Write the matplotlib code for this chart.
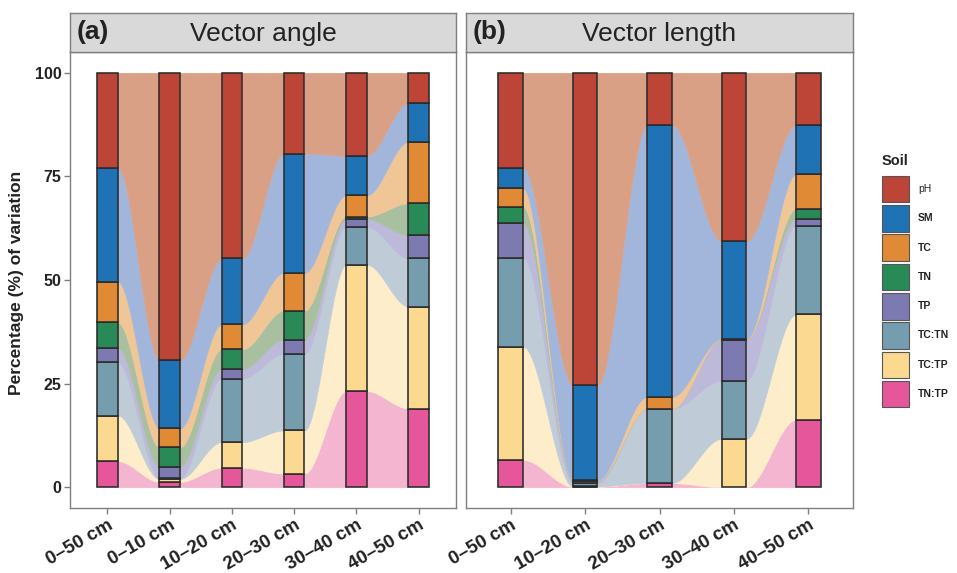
import numpy as np
import matplotlib
matplotlib.use("Agg")
import matplotlib.pyplot as plt
from matplotlib.patches import Rectangle

plt.rcParams['font.family'] = ['Liberation Sans', 'DejaVu Sans']

# ---------------- data ----------------
soil = ['pH', 'SM', 'TC', 'TN', 'TP', 'TC:TN', 'TC:TP', 'TN:TP']
soil_colors = ['#BC4538', '#1F72B4', '#E08A35', '#2A8A57', '#7D79B1',
               '#759DAE', '#FBD991', '#E5569B']
flow_colors = ['#DAA086', '#A2B6DB', '#F1C697', '#A9C0A0', '#BDB9DA',
               '#BFCCD8', '#FDEDCB', '#F3B5CF']

angle_depths = ['0–50 cm', '0–10 cm', '10–20 cm', '20–30 cm', '30–40 cm', '40–50 cm']
angle_pH   = [22.9, 69.4, 44.8, 19.5, 20.0, 7.3]
angle_SM   = [27.5, 16.4, 15.9, 28.8, 9.6, 9.4]
angle_TC   = [9.8, 4.55, 6.0, 9.1, 5.1, 14.8]
angle_TN   = [6.1, 4.75, 4.8, 7.0, 0.6, 7.7]
angle_TP   = [3.5, 2.7, 2.3, 3.4, 1.9, 5.6]
angle_TCTN = [12.9, 0.2, 15.3, 18.5, 9.1, 11.6]
angle_TCTP = [11.0, 0.7, 6.2, 10.4, 30.5, 24.6]
angle_TNTP = [6.3, 1.3, 4.7, 3.3, 23.2, 19.0]

length_depths = ['0–50 cm', '10–20 cm', '20–30 cm', '30–40 cm', '40–50 cm']
length_pH   = [22.9, 75.4, 12.6, 40.7, 12.6]
length_SM   = [5.0, 22.8, 65.6, 23.5, 11.9]
length_TC   = [4.4, 0.1, 2.9, 0.1, 8.3]
length_TN   = [4.0, 0.1, 0.0, 0.1, 2.5]
length_TP   = [8.3, 0.6, 0.0, 9.9, 1.6]
length_TCTN = [21.5, 0.8, 17.9, 14.0, 21.4]
length_TCTP = [27.3, 0.1, 0.0, 11.7, 25.4]
length_TNTP = [6.6, 0.1, 1.0, 0.0, 16.3]

panels = [
    ('(a)', 'Vector angle', angle_depths,
     [angle_pH, angle_SM, angle_TC, angle_TN, angle_TP, angle_TCTN, angle_TCTP, angle_TNTP]),
    ('(b)', 'Vector length', length_depths,
     [length_pH, length_SM, length_TC, length_TN, length_TP, length_TCTN, length_TCTP, length_TNTP]),
]

# ---------------- layout ----------------
W, H = 957, 573
fig = plt.figure(figsize=(W / 100, H / 100), dpi=100)

def rect(l, t, r, b):
    return [l / W, 1 - b / H, (r - l) / W, (b - t) / H]

panel_px = [(70, 456), (466, 853)]
ptop, pbot, stop = 52, 508, 13
frame_col = '#7F7F7F'
text_col = '#222222'
bar_w = 0.33

for pi, (tag, title, depths, series) in enumerate(panels):
    l, r = panel_px[pi]
    ax = fig.add_axes(rect(l, ptop, r, pbot))
    n = len(depths)
    x = np.arange(1, n + 1)
    vals = np.array(series)  # strata x bars, pH first (top)
    order = list(range(len(soil)))[::-1]  # TN:TP at bottom
    bottoms = np.zeros((len(soil), n))
    cum = np.zeros(n)
    for k in order:
        bottoms[k] = cum
        cum = cum + vals[k]
    tops = bottoms + vals

    # flows
    t = np.linspace(0, 1, 80)
    s = 3 * t ** 2 - 2 * t ** 3
    for k in order:
        lc = flow_colors[k]
        for i in range(n - 1):
            x0 = x[i] + bar_w / 2
            x1 = x[i + 1] - bar_w / 2
            xx = x0 + (x1 - x0) * t
            lo = bottoms[k, i] + (bottoms[k, i + 1] - bottoms[k, i]) * s
            hi = tops[k, i] + (tops[k, i + 1] - tops[k, i]) * s
            ax.fill_between(xx, lo, hi, color=lc, linewidth=0.4, edgecolor=lc, zorder=1)

    # bars
    for k in order:
        for i in range(n):
            if vals[k, i] <= 0:
                continue
            ax.bar(x[i], vals[k, i], bottom=bottoms[k, i], width=bar_w,
                   color=soil_colors[k], edgecolor='#2b2b2b', linewidth=1.15, zorder=3)

    ax.set_xlim(0.4, n + 0.6)
    ax.set_ylim(-5, 105)
    ax.set_xticks(x)
    ax.set_xticklabels(depths, rotation=30, ha='right', va='top', rotation_mode='anchor',
                       fontsize=13.5, fontweight='bold', color=text_col)
    ax.tick_params(axis='x', length=4, width=1, color=frame_col, pad=2)
    if pi == 0:
        ax.set_yticks([0, 25, 50, 75, 100])
        ax.set_yticklabels(['0', '25', '50', '75', '100'], fontsize=11.5,
                           fontweight='bold', color=text_col)
        ax.tick_params(axis='y', length=4, width=1, color=frame_col, pad=2)
    else:
        ax.set_yticks([])
    for sp in ax.spines.values():
        sp.set_color(frame_col)
        sp.set_linewidth(1.0)

    # strip
    sa = fig.add_axes(rect(l, stop, r, ptop))
    sa.set_facecolor('#D9D9D9')
    sa.set_xticks([])
    sa.set_yticks([])
    for sp in sa.spines.values():
        sp.set_color(frame_col)
        sp.set_linewidth(1.0)
    sa.text(0.5, 0.47, title, ha='center', va='center', fontsize=19, color=text_col,
            transform=sa.transAxes)
    sa.text(0.018, 0.52, tag, ha='left', va='center', fontsize=19, fontweight='bold',
            color=text_col, transform=sa.transAxes)

fig.text(17 / W, 1 - 283 / H, 'Percentage (%) of variation', rotation=90,
         ha='center', va='center', fontsize=12.5, fontweight='bold', color=text_col)

# legend
fig.text(882 / W, 1 - 161 / H, 'Soil', ha='left', va='center', fontsize=10.5,
         fontweight='bold', color=text_col)
for i, (lab, c) in enumerate(zip(soil, soil_colors)):
    yc = 189 + i * 29.3
    fig.add_artist(Rectangle((882 / W, 1 - (yc + 13.3) / H), 27 / W, 26.6 / H,
                             transform=fig.transFigure, facecolor=c,
                             edgecolor='#555555', linewidth=0.8))
    fig.text(918 / W, 1 - yc / H, lab, ha='left', va='center', fontsize=7.5,
             fontweight='normal' if lab == 'pH' else 'bold', color=text_col)

fig.savefig('out.png', dpi=100)
